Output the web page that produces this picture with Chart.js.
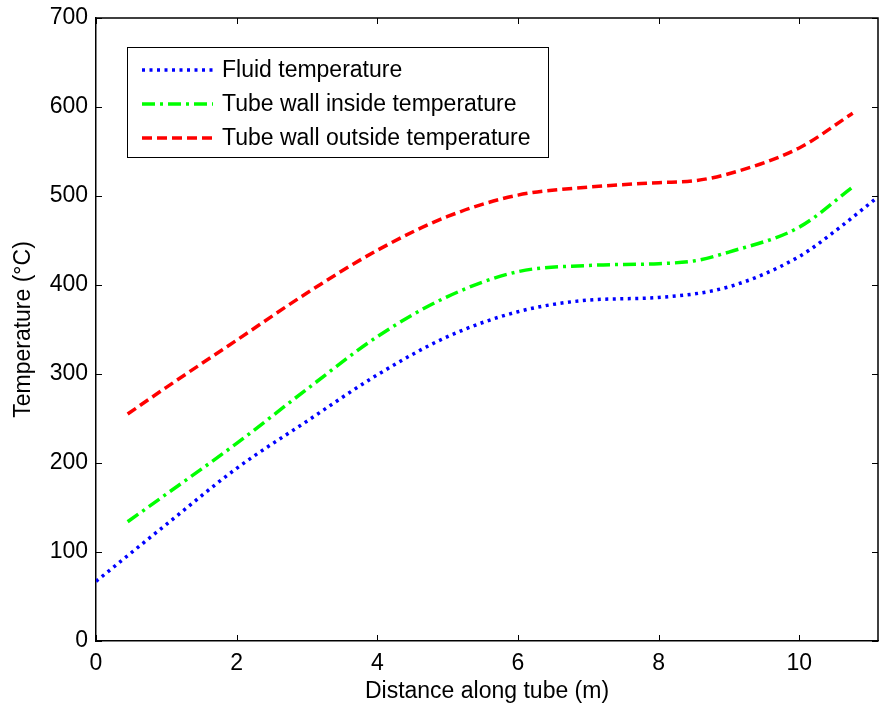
<!DOCTYPE html>
<html>
<head>
<meta charset="utf-8">
<script src="https://cdn.jsdelivr.net/npm/chart.js@4/dist/chart.umd.min.js"></script>
<style>
  html, body { margin: 0; padding: 0; background: #fff; }
  #wrap { width: 882px; height: 707px; }
</style>
</head>
<body>
<div id="wrap"><canvas id="tempChart" width="882" height="707"></canvas></div>
<script>
// distances along tube (m)
const fluidX = [0, 1, 2, 3, 4, 5, 6, 7, 8, 9, 10, 10.5, 11.12];
const fluidT = [67, 131, 194, 247, 299, 342, 370, 383, 386, 398, 432, 460, 499];

const insideX = [0.45, 1, 2, 3, 4, 5, 6, 7, 8, 8.5, 9, 10, 10.76];
const insideT = [134, 165, 222, 283, 342, 387, 415, 422, 424, 427, 437, 465, 510];

const outsideX = [0.45, 1, 2, 3, 4, 5, 6, 7, 8, 8.5, 9, 10, 10.76];
const outsideT = [255, 285, 338, 391, 439, 477, 501, 510, 515, 517, 525, 554, 593];

const seriesNames = ['Fluid temperature', 'Tube wall inside temperature', 'Tube wall outside temperature'];
const seriesColors = ['#0000ff', '#00ff00', '#ff0000'];
const seriesDashes = [[3, 4.5], [13, 5, 3, 5], [10, 5]];

function toPoints(xs, ys) {
    return xs.map(function(x, i) { return { x: x, y: ys[i] }; });
}

const FONT = 'Liberation Sans, Arial, sans-serif';
const FSIZE = 23;

// inside tick marks, box on top/right, and the boxed legend
const matlabAxes = {
    id: 'matlabAxes',
    afterDraw: function(chart) {
        const c = chart.ctx;
        const a = chart.chartArea;
        const xs = chart.scales.x, ys = chart.scales.y;
        c.save();
        c.strokeStyle = '#000';
        c.lineWidth = 1.5;
        c.beginPath();
        c.moveTo(a.left, a.top); c.lineTo(a.right, a.top); c.lineTo(a.right, a.bottom);
        c.stroke();
        c.lineWidth = 1;
        c.beginPath();
        xs.ticks.forEach(function(t) {
            const px = Math.round(xs.getPixelForValue(t.value)) + 0.5;
            c.moveTo(px, a.bottom); c.lineTo(px, a.bottom - 6);
            c.moveTo(px, a.top); c.lineTo(px, a.top + 6);
        });
        ys.ticks.forEach(function(t) {
            const py = Math.round(ys.getPixelForValue(t.value)) + 0.5;
            c.moveTo(a.left, py); c.lineTo(a.left + 6, py);
            c.moveTo(a.right, py); c.lineTo(a.right - 6, py);
        });
        c.stroke();

        // legend box
        const bx = 127.5, by = 47.5, bw = 421, bh = 110;
        c.fillStyle = '#fff';
        c.fillRect(bx, by, bw, bh);
        c.lineWidth = 1;
        c.strokeRect(bx, by, bw, bh);
        c.font = FSIZE + 'px ' + FONT;
        c.textBaseline = 'middle';
        c.textAlign = 'left';
        for (let i = 0; i < 3; i++) {
            const ly = 70 + i * 34;
            c.strokeStyle = seriesColors[i];
            c.lineWidth = 3.5;
            c.setLineDash(seriesDashes[i]);
            c.beginPath();
            c.moveTo(142, ly); c.lineTo(213, ly);
            c.stroke();
            c.setLineDash([]);
            c.fillStyle = '#000';
            c.fillText(seriesNames[i], 222, ly + 1);
        }
        c.restore();
    }
};

const datasets = [
    toPoints(fluidX, fluidT),
    toPoints(insideX, insideT),
    toPoints(outsideX, outsideT)
].map(function(pts, i) {
    return {
        label: seriesNames[i],
        data: pts,
        borderColor: seriesColors[i],
        backgroundColor: seriesColors[i],
        borderWidth: 3.5,
        borderDash: seriesDashes[i],
        pointRadius: 0,
        cubicInterpolationMode: 'monotone',
        fill: false
    };
});

const ctx = document.getElementById('tempChart').getContext('2d');
const chart = new Chart(ctx, {
    type: 'line',
    data: { datasets: datasets },
    options: {
        responsive: false,
        animation: false,
        layout: { padding: { top: 18, right: 4, left: 10, bottom: 0 } },
        scales: {
            x: {
                type: 'linear',
                min: 0,
                max: 11.12,
                grid: { display: false, drawTicks: false },
                border: { display: true, color: '#000', width: 1.5 },
                ticks: {
                    stepSize: 2,
                    includeBounds: false,
                    color: '#000',
                    padding: 9,
                    maxRotation: 0,
                    font: { family: FONT, size: FSIZE }
                },
                title: {
                    display: true,
                    text: 'Distance along tube (m)',
                    color: '#000',
                    padding: { top: 0, bottom: 2 },
                    font: { family: FONT, size: FSIZE }
                },
                afterFit: function(scale) {
                    scale.height = 66;
                    scale.paddingLeft = 0;
                    scale.paddingRight = 0;
                }
            },
            y: {
                min: 0,
                max: 700,
                grid: { display: false, drawTicks: false },
                border: { display: true, color: '#000', width: 1.5 },
                ticks: {
                    stepSize: 100,
                    color: '#000',
                    padding: 8,
                    font: { family: FONT, size: FSIZE }
                },
                title: {
                    display: true,
                    text: 'Temperature (°C)',
                    color: '#000',
                    padding: { top: 0, bottom: 4 },
                    font: { family: FONT, size: FSIZE }
                },
                afterFit: function(scale) {
                    scale.width = 86;
                    scale.paddingTop = 0;
                    scale.paddingBottom = 0;
                }
            }
        },
        plugins: {
            legend: { display: false },
            tooltip: { enabled: false }
        }
    },
    plugins: [matlabAxes]
});
</script>
</body>
</html>
